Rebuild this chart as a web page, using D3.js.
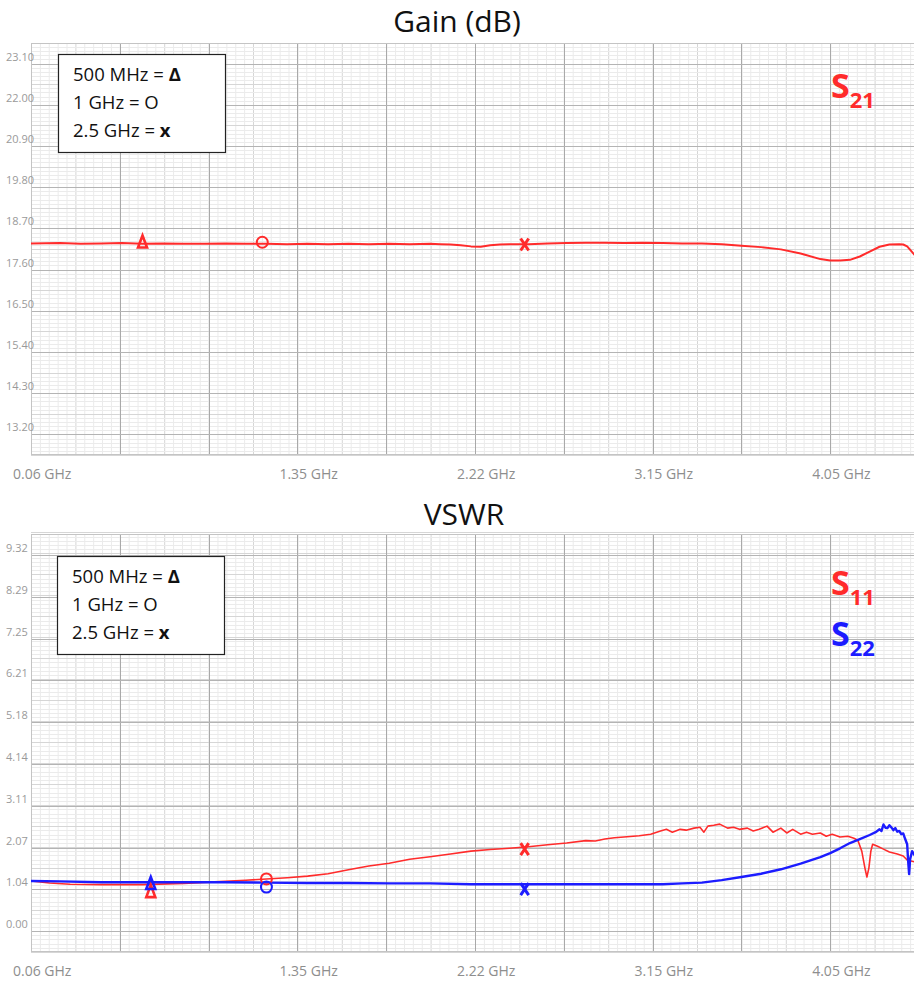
<!DOCTYPE html>
<html>
<head>
<meta charset="utf-8">
<script src="https://cdn.jsdelivr.net/npm/d3@7"></script>
<style>
  body { margin: 0; background: #fff; }
  svg { display: block; }
  text { font-family: "Open Sans", sans-serif; }
</style>
</head>
<body>
<svg id="chart" width="914" height="985"></svg>
<script>
// x axis: tick labels in GHz and the grid division each label sits on
const xTickGHz = [0.06, 1.35, 2.22, 3.15, 4.05];
const xTickDiv = [0, 3, 5, 7, 9];

const gainTicks = [13.20, 14.30, 15.40, 16.50, 17.60, 18.70, 19.80, 20.90, 22.00, 23.10];
const vswrTicks = [0.00, 1.04, 2.07, 3.11, 4.14, 5.18, 6.21, 7.25, 8.29, 9.32];

// S21 gain trace (GHz, dB)
const s21Freq = [0.06, 0.2, 0.3, 0.4, 0.5, 0.6, 0.7, 0.8, 0.9, 1.0,
  1.1, 1.2, 1.3, 1.4, 1.5, 1.6, 1.7, 1.8, 1.9, 2.0,
  2.05, 2.1, 2.15, 2.2, 2.25, 2.3, 2.35, 2.4,
  2.5, 2.6, 2.7, 2.8, 2.9, 3.0, 3.1, 3.2, 3.3, 3.4,
  3.5, 3.6, 3.7, 3.8, 3.9, 4.0,
  4.05, 4.1, 4.15, 4.2, 4.25, 4.3, 4.35, 4.4,
  4.42, 4.44, 4.46, 4.48];
const s21Gain = [18.30, 18.31, 18.29, 18.30, 18.31, 18.29, 18.30, 18.29, 18.29, 18.30,
  18.29, 18.29, 18.28, 18.29, 18.28, 18.29, 18.28, 18.29, 18.28, 18.29,
  18.28, 18.27, 18.25, 18.22, 18.21, 18.25, 18.27, 18.28,
  18.28, 18.30, 18.31, 18.32, 18.32, 18.31, 18.32, 18.31, 18.30, 18.30,
  18.28, 18.24, 18.20, 18.14, 18.03, 17.88,
  17.84, 17.84, 17.86, 17.95, 18.08, 18.21, 18.27, 18.28,
  18.27, 18.22, 18.10, 17.98];

// S11 VSWR trace
const s11Freq = [0.06, 0.15, 0.25, 0.4, 0.6, 0.8, 1.0, 1.1, 1.2, 1.3,
  1.4, 1.5, 1.6, 1.7, 1.8, 1.9, 2.0, 2.1, 2.2, 2.3,
  2.4, 2.5, 2.6, 2.7, 2.8, 2.85, 2.9, 2.95, 3.0, 3.08,
  3.14, 3.19, 3.22, 3.25, 3.29, 3.32, 3.36, 3.39, 3.41, 3.43,
  3.46, 3.49, 3.53, 3.56, 3.59, 3.63, 3.66, 3.69, 3.73, 3.76,
  3.80, 3.83, 3.86, 3.90, 3.93, 3.96, 4.00, 4.03, 4.06, 4.10,
  4.14, 4.17, 4.19, 4.21, 4.226, 4.236, 4.246, 4.256, 4.265, 4.29,
  4.32, 4.35, 4.39, 4.42, 4.44, 4.48];
const s11Vswr = [1.24, 1.19, 1.16, 1.15, 1.15, 1.18, 1.23, 1.26, 1.29, 1.32,
  1.36, 1.42, 1.52, 1.61, 1.68, 1.78, 1.84, 1.91, 1.98, 2.02,
  2.05, 2.09, 2.14, 2.18, 2.24, 2.23, 2.28, 2.31, 2.33, 2.36,
  2.40, 2.48, 2.52, 2.45, 2.52, 2.50, 2.55, 2.57, 2.45, 2.60,
  2.62, 2.65, 2.55, 2.57, 2.52, 2.55, 2.48, 2.52, 2.60, 2.45,
  2.55, 2.43, 2.52, 2.40, 2.45, 2.40, 2.43, 2.35, 2.40, 2.33,
  2.35, 2.30, 2.25, 1.98, 1.56, 1.34, 1.56, 1.98, 2.15, 2.10,
  2.03, 1.96, 1.91, 1.86, 1.76, 1.71];

// S22 VSWR trace
const s22Freq = [0.06, 0.2, 0.4, 0.6, 0.8, 1.0, 1.2, 1.4, 1.6, 1.8,
  2.0, 2.2, 2.4, 2.6, 2.8, 3.0, 3.2, 3.3, 3.4, 3.5,
  3.6, 3.7, 3.8, 3.9, 4.0, 4.05, 4.1, 4.15, 4.2, 4.25,
  4.28, 4.3, 4.31, 4.32, 4.33, 4.34, 4.35, 4.36, 4.37, 4.38,
  4.39, 4.4, 4.41, 4.42, 4.43, 4.44, 4.445, 4.45, 4.455, 4.465,
  4.48];
const s22Vswr = [1.24, 1.23, 1.21, 1.21, 1.21, 1.21, 1.20, 1.19, 1.19, 1.18,
  1.18, 1.16, 1.16, 1.16, 1.16, 1.16, 1.16, 1.18, 1.20, 1.26,
  1.34, 1.42, 1.53, 1.67, 1.83, 1.93, 2.05, 2.18, 2.28, 2.38,
  2.45, 2.52, 2.48, 2.64, 2.56, 2.55, 2.62, 2.57, 2.50, 2.55,
  2.46, 2.48, 2.40, 2.42, 2.28, 2.15, 1.73, 1.41, 1.78, 1.98,
  1.86];

// hand-placed frequency markers (where they sit on the picture)
const gainMarkers = [
  { shape: "tri", f: 0.60, v: 18.35 },
  { shape: "circ", f: 1.18, v: 18.33 },
  { shape: "x", f: 2.48, v: 18.27 }
];
const s11Markers = [
  { shape: "tri", f: 0.64, v: 0.99 },
  { shape: "circ", f: 1.20, v: 1.29 },
  { shape: "x", f: 2.48, v: 2.03 }
];
const s22Markers = [
  { shape: "tri", f: 0.64, v: 1.19 },
  { shape: "circ", f: 1.20, v: 1.09 },
  { shape: "x", f: 2.48, v: 1.04 }
];

const legendLines = [
  { text: "500 MHz = ", sym: "Δ", bold: true },
  { text: "1 GHz = ", sym: "O", bold: false },
  { text: "2.5 GHz = ", sym: "x", bold: true }
];

const RED = "#ff2b2b";
const BLUE = "#1c1cff";

const svg = d3.select("#chart");
const left = 31, divW = 88.8, nDiv = 10;
const plotW = divW * nDiv;

const divScale = d3.scaleLinear().domain([0, nDiv]).range([0, plotW]);
// frequency labels are not evenly spaced on the grid, so map piecewise
const x = d3.scaleLinear().domain(xTickGHz).range(xTickDiv.map(d => divScale(d)));

function drawPanel(cfg) {
  const g = svg.append("g").attr("transform", `translate(${left},${cfg.top})`);
  const h = cfg.bottom - cfg.top;
  const step = cfg.ticks[1] - cfg.ticks[0];
  const y = d3.scaleLinear()
    .domain([cfg.ticks[0] - step / 2, cfg.ticks[cfg.ticks.length - 1] + step / 2])
    .range([h, 0]);

  const clipId = "clip" + cfg.name;
  g.append("clipPath").attr("id", clipId)
    .append("rect").attr("width", plotW).attr("height", h);

  const grid = g.append("g");
  // minor vertical
  grid.selectAll(".vmin").data(d3.range(0, nDiv * 10 + 1))
    .enter().append("line")
    .attr("x1", d => divScale(d / 10) + 0.5).attr("x2", d => divScale(d / 10) + 0.5)
    .attr("y1", 0).attr("y2", h)
    .attr("stroke", d => d % 5 === 0 ? "#d6d6d6" : "#ebebeb");
  // minor horizontal
  const yMin = y.domain()[0];
  grid.selectAll(".hmin").data(d3.range(0, 101))
    .enter().append("line")
    .attr("x1", 0).attr("x2", plotW)
    .attr("y1", d => Math.round(y(yMin + d * step / 10)) + 0.5)
    .attr("y2", d => Math.round(y(yMin + d * step / 10)) + 0.5)
    .attr("stroke", d => d % 5 === 0 ? "#d6d6d6" : "#ebebeb");
  // major vertical
  grid.selectAll(".vmaj").data(d3.range(0, nDiv + 1))
    .enter().append("line")
    .attr("x1", d => Math.round(divScale(d)) + 0.5).attr("x2", d => Math.round(divScale(d)) + 0.5)
    .attr("y1", 0).attr("y2", h)
    .attr("stroke", "#a9a9a9");
  // major horizontal
  grid.selectAll(".hmaj").data(cfg.ticks)
    .enter().append("line")
    .attr("x1", 0).attr("x2", plotW)
    .attr("y1", d => Math.round(y(d)) + 0.5).attr("y2", d => Math.round(y(d)) + 0.5)
    .attr("stroke", "#b4b4b4");
  // frame
  g.append("rect").attr("x", 0.5).attr("y", 0.5).attr("width", plotW).attr("height", h - 1)
    .attr("fill", "none").attr("stroke", "#c4c4c4");

  // y labels
  svg.append("g").selectAll("text").data(cfg.ticks).enter().append("text")
    .attr("x", 6).attr("y", d => cfg.top + y(d) - 3)
    .attr("font-size", 11).attr("fill", "#9a9a9a")
    .text(d => d.toFixed(2));

  // x labels
  svg.append("g").selectAll("text").data(xTickGHz).enter().append("text")
    .attr("x", d => left + x(d) - 18).attr("y", cfg.bottom + 24)
    .attr("font-size", 14).attr("fill", "#8e8e8e")
    .text(d => d.toFixed(2) + " GHz");

  // title
  svg.append("text").attr("x", cfg.titleX).attr("y", cfg.titleY)
    .attr("text-anchor", "middle").attr("font-size", 30).attr("fill", "#111")
    .text(cfg.title);

  const plot = g.append("g").attr("clip-path", `url(#${clipId})`);
  const line = d3.line().x(d => x(d[0])).y(d => y(d[1]));

  cfg.series.forEach(s => {
    plot.append("path")
      .datum(d3.zip(s.freq, s.vals))
      .attr("fill", "none")
      .attr("stroke", s.color)
      .attr("stroke-width", s.width)
      .attr("stroke-linejoin", "round")
      .attr("d", line);
  });

  cfg.series.forEach(s => {
    const mk = plot.selectAll(null).data(s.markers).enter().append("g")
      .attr("transform", d => `translate(${x(d.f)},${y(d.v)})`)
      .attr("fill", "none").attr("stroke", s.color);
    mk.filter(d => d.shape === "tri").append("path")
      .attr("d", "M0,-6 L4.5,6 L-4.5,6 Z").attr("stroke-width", 2.6)
      .attr("stroke-linejoin", "miter");
    mk.filter(d => d.shape === "circ").append("circle")
      .attr("r", 5.5).attr("stroke-width", 2);
    mk.filter(d => d.shape === "x").append("path")
      .attr("d", "M-4,-6 L4,6 M4,-6 L-4,6").attr("stroke-width", 3);
  });

  // legend box
  const lg = svg.append("g").attr("transform", `translate(${cfg.legendX},${cfg.legendY})`);
  lg.append("rect").attr("x", 0.5).attr("y", 0.5).attr("width", 167).attr("height", 98)
    .attr("fill", "#fff").attr("stroke", "#222").attr("stroke-width", 1.2);
  const lt = lg.selectAll("text").data(legendLines).enter().append("text")
    .attr("x", 15).attr("y", (d, i) => 27 + i * 28)
    .attr("font-size", 18.5).attr("fill", "#111");
  lt.append("tspan").text(d => d.text);
  lt.append("tspan").attr("font-weight", d => d.bold ? 700 : 400).text(d => d.sym);

  // S-parameter labels
  cfg.labels.forEach((lb, i) => {
    const t = svg.append("text")
      .attr("x", 831).attr("y", cfg.labelY + i * 51)
      .attr("fill", lb.color).attr("font-weight", 700).attr("font-size", 34);
    t.append("tspan").text("S");
    t.append("tspan").attr("font-size", 22).attr("dy", 10).text(lb.sub);
  });
}

drawPanel({
  name: "gain", title: "Gain (dB)", titleX: 457, titleY: 32, top: 43, bottom: 455, ticks: gainTicks,
  legendX: 58, legendY: 54, labelY: 98,
  labels: [{ sub: "21", color: RED }],
  series: [{ freq: s21Freq, vals: s21Gain, color: RED, width: 2, markers: gainMarkers }]
});

drawPanel({
  name: "vswr", title: "VSWR", titleX: 464, titleY: 525, top: 534, bottom: 952, ticks: vswrTicks,
  legendX: 57, legendY: 556, labelY: 595,
  labels: [{ sub: "11", color: RED }, { sub: "22", color: BLUE }],
  series: [
    { freq: s11Freq, vals: s11Vswr, color: RED, width: 1.6, markers: s11Markers },
    { freq: s22Freq, vals: s22Vswr, color: BLUE, width: 2.4, markers: s22Markers }
  ]
});
</script>
</body>
</html>
